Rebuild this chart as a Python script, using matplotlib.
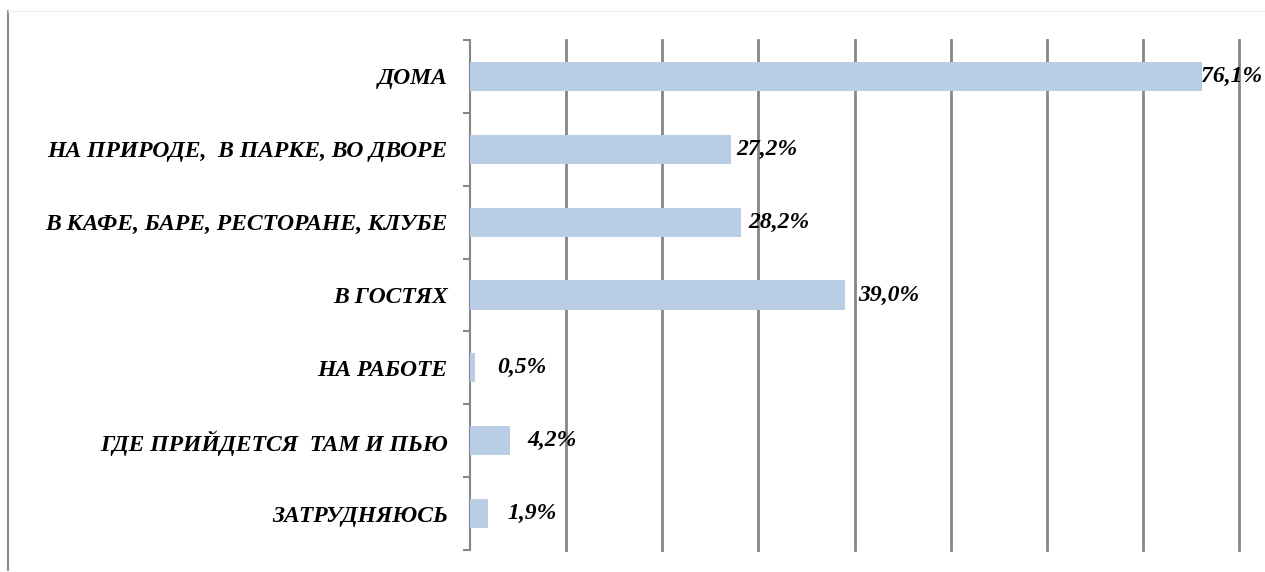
import matplotlib
matplotlib.use("Agg")
import matplotlib.pyplot as plt
from matplotlib.lines import Line2D
import numpy as np

categories = ["ДОМА", "НА ПРИРОДЕ,  В ПАРКЕ, ВО ДВОРЕ", "В КАФЕ, БАРЕ, РЕСТОРАНЕ, КЛУБЕ",
              "В ГОСТЯХ", "НА РАБОТЕ", "ГДЕ ПРИЙДЕТСЯ  ТАМ И ПЬЮ", "ЗАТРУДНЯЮСЬ"]
values = [76.1, 27.2, 28.2, 39.0, 0.5, 4.2, 1.9]
value_labels = ["76,1%", "27,2%", "28,2%", "39,0%", "0,5%", "4,2%", "1,9%"]
# label offsets from bar end, in points (style)
label_offsets = [-0.7, 3.6, 5, 9.4, 15.8, 12.2, 13.7]

W, H = 1265, 572
fig = plt.figure(figsize=(W / 100, H / 100), dpi=100)
ax = fig.add_axes([470 / W, 1 - 550 / H, (1239 - 470) / W, (550 - 40) / H])

font = dict(family="Liberation Serif", weight="bold", style="italic", size=17)
grid_c = "#868686"

n = len(categories)
y = np.arange(n)
ax.barh(y, values, height=0.4, color="#B9CDE5", zorder=3)
ax.set_ylim(n - 0.5, -0.5)
ax.set_xlim(0, 80)

ax.set_xticks(np.arange(10, 81, 10))
ax.xaxis.grid(True, color=grid_c, linewidth=2, zorder=1)
for gl in ax.get_xgridlines():
    gl.set_clip_on(False)
ax.tick_params(axis="x", length=0, labelbottom=False)
ax.set_yticks(y)
ax.set_yticklabels(categories, **font)
ax.tick_params(axis="y", which="major", length=0, pad=16)
ax.set_yticks(np.arange(-0.5, n, 1), minor=True)
ax.tick_params(axis="y", which="minor", length=5, width=1.5, color=grid_c)

for s in ["top", "right", "bottom"]:
    ax.spines[s].set_visible(False)
ax.spines["left"].set_color(grid_c)
ax.spines["left"].set_linewidth(1.5)

for yi, v, lab, off in zip(y, values, value_labels, label_offsets):
    ax.annotate(lab, (v, yi), xytext=(off, 0), textcoords="offset points",
                ha="left", va="center", zorder=5, **font)

# chart-area border (left and faint top)
fig.add_artist(Line2D([8 / W, 8 / W], [1 - 570 / H, 1 - 11 / H], color="#8c8c8c", linewidth=1.5))
fig.add_artist(Line2D([8 / W, 1], [1 - 11 / H, 1 - 11 / H], color="#f0f0f0", linewidth=1))

fig.savefig("out.png", dpi=100)
